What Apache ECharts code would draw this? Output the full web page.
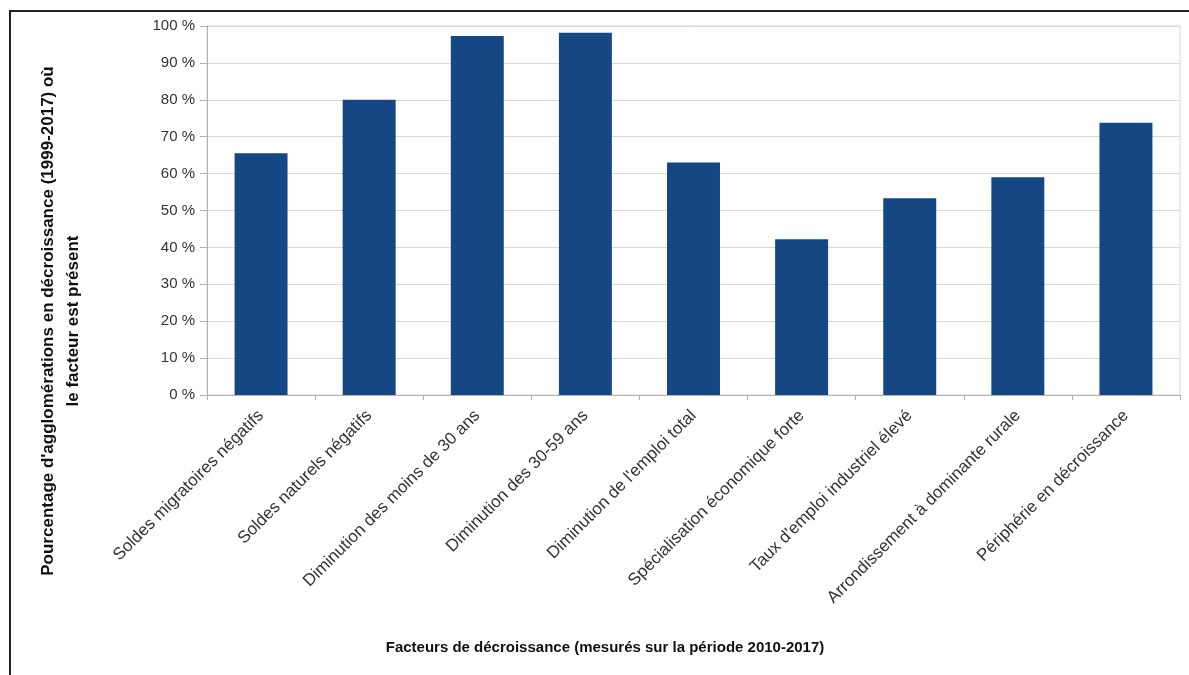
<!DOCTYPE html>
<html>
<head>
<meta charset="utf-8">
<script src="https://cdn.jsdelivr.net/npm/echarts@6/dist/echarts.min.js"></script>
<style>
html,body{margin:0;padding:0;background:#fff;}
#chart{width:1189px;height:675px;}
</style>
</head>
<body>
<div id="chart"></div>
<script>
const categories = [
  "Soldes migratoires négatifs",
  "Soldes naturels négatifs",
  "Diminution des moins de 30 ans",
  "Diminution des 30-59 ans",
  "Diminution de l'emploi total",
  "Spécialisation économique forte",
  "Taux d'emploi industriel élevé",
  "Arrondissement à dominante rurale",
  "Périphérie en décroissance"
];
const values = [65.5, 80, 97.3, 98.2, 63, 42.2, 53.3, 59, 73.8];
const yTicks = [0, 10, 20, 30, 40, 50, 60, 70, 80, 90, 100];
const yTitle = "Pourcentage d'agglomérations en décroissance (1999-2017) où\nle facteur est présent";
const xTitle = "Facteurs de décroissance (mesurés sur la période 2010-2017)";

const chart = echarts.init(document.getElementById('chart'), null, {renderer: 'canvas'});
const font = "'Liberation Sans', Arial, sans-serif";
chart.setOption({
  animation: false,
  backgroundColor: '#ffffff',
  grid: {
    left: 207, right: 9, top: 26, bottom: 280,
    show: true, borderColor: '#d6d6d6', borderWidth: 1
  },
  xAxis: {
    type: 'category',
    data: categories,
    axisLine: {lineStyle: {color: '#b3b3b3', width: 1}},
    axisTick: {show: true, length: 5, lineStyle: {color: '#b3b3b3'}},
    axisLabel: {
      rotate: 45, interval: 0, margin: 18,
      fontFamily: font, fontSize: 17, color: '#333333'
    },
    splitLine: {show: false}
  },
  yAxis: {
    type: 'value',
    min: yTicks[0], max: yTicks[yTicks.length - 1], interval: 10,
    axisLine: {show: true, lineStyle: {color: '#b3b3b3', width: 1}},
    axisTick: {show: true, length: 7, lineStyle: {color: '#b3b3b3'}},
    axisLabel: {
      formatter: v => v + ' %', margin: 12,
      fontFamily: font, fontSize: 15, color: '#333333'
    },
    splitLine: {lineStyle: {color: '#d9d9d9', width: 1}}
  },
  series: [{
    type: 'bar',
    data: values,
    barWidth: '49%',
    itemStyle: {color: '#164785'}
  }],
  graphic: [
    {type: 'rect', shape: {x: 10, y: 11, width: 1200, height: 700},
     style: {fill: 'none', stroke: '#222', lineWidth: 2}, silent: true},
    {type: 'text', x: 61, y: 321, rotation: Math.PI / 2,
     style: {text: yTitle, fontFamily: font, fontSize: 17, fontWeight: 'bold',
             fill: '#111', align: 'center', verticalAlign: 'middle', lineHeight: 25}},
    {type: 'text', x: 605, y: 648,
     style: {text: xTitle, fontFamily: font, fontSize: 15, fontWeight: 'bold',
             fill: '#111', align: 'center', verticalAlign: 'middle'}}
  ]
});
</script>
</body>
</html>
